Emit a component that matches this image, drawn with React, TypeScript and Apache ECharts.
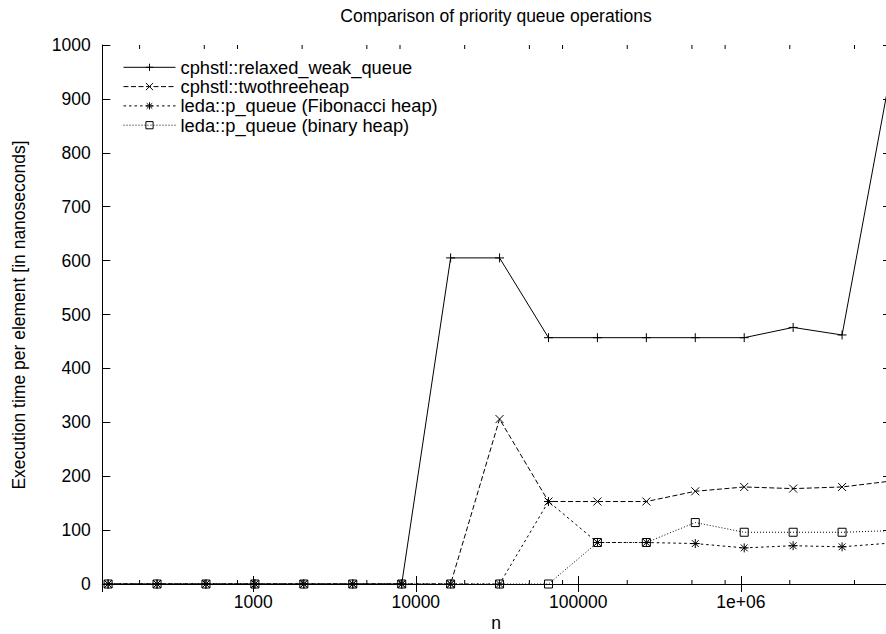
import React, { useEffect, useRef } from "react";
import * as echarts from "echarts";

const X_VALUES = [128, 256, 512, 1024, 2048, 4096, 8192, 16384, 32768, 65536, 131072, 262144, 524288, 1048576, 2097152, 4194304, 8388608];
const RELAXED_WEAK = [0, 0, 0, 0, 0, 0, 0, 605, 605, 457, 457, 457, 457, 457, 476, 462, 952];
const TWOTHREE = [0, 0, 0, 0, 0, 0, 0, 0, 306, 153, 153, 153, 172, 180, 177, 180, 191];
const FIBONACCI = [0, 0, 0, 0, 0, 0, 0, 0, 0, 153, 77, 77, 75, 67, 71, 69, 76];
const BINARY = [0, 0, 0, 0, 0, 0, 0, 0, 0, 0, 77, 77, 114, 96, 96, 96, 99];
const SERIES_NAMES = [
  "cphstl::relaxed_weak_queue",
  "cphstl::twothreeheap",
  "leda::p_queue (Fibonacci heap)",
  "leda::p_queue (binary heap)",
];
const MINOR_TICKS = [200, 500, 800, 2000, 5000, 8000, 20000, 50000, 80000, 200000, 500000, 800000, 2000000, 5000000, 8000000];
const TITLE = "Comparison of priority queue operations";
const X_NAME = "n";
const Y_NAME = "Execution time per element [in nanoseconds]";

const FONT = "'Liberation Sans', Arial, Helvetica, sans-serif";
const FS = 17.5;

const SYM_PLUS = "path://M0,5L10,5M5,0L5,10";
const SYM_CROSS = "path://M0,0L10,10M0,10L10,0";
const SYM_STAR = "path://M0,5L10,5M5,0L5,10M1.2,1.2L8.8,8.8M1.2,8.8L8.8,1.2";
const SYM_SQUARE = "path://M0,0L10,0L10,10L0,10Z";

function xLabel(v: number): string {
  const l = Math.log10(v);
  if (Math.abs(l - Math.round(l)) > 1e-6) return "";
  const e = Math.round(l);
  if (e >= 6) return "1e+" + (e < 10 ? "0" + e : String(e));
  return String(Math.round(v));
}

export default function App() {
  const ref = useRef<HTMLDivElement>(null);
  useEffect(() => {
    if (!ref.current) return;
    const chart = echarts.init(ref.current, undefined, { renderer: "svg" });
    const mk = (
      name: string,
      vals: number[],
      symbol: string,
      size: number,
      dash: any
    ) => ({
      name,
      type: "line",
      data: X_VALUES.map((x, i) => [x, vals[i]]),
      symbol,
      symbolSize: size,
      showAllSymbol: true,
      clip: true,
      lineStyle: { color: "#000", width: 1, type: dash },
      itemStyle: { color: "rgba(0,0,0,0)", borderColor: "#000", borderWidth: 1 },
      emphasis: { disabled: true },
      z: 3,
    });
    const axisLine = { show: true, lineStyle: { color: "#000", width: 1 } };
    const tick = { show: true, inside: true, length: 8, lineStyle: { color: "#000", width: 1 } };
    const option: any = {
      animation: false,
      backgroundColor: "#fff",
      grid: { left: 102.3, top: 45, right: 2.7, bottom: 50, containLabel: false },
      graphic: [
        {
          type: "text",
          x: 496,
          y: 15.5,
          style: { text: TITLE, fontSize: FS, fontFamily: FONT, fill: "#000", align: "center", verticalAlign: "middle" },
        },
        {
          type: "text",
          x: 18.5,
          y: 315,
          rotation: Math.PI / 2,
          style: { text: Y_NAME, fontSize: FS, fontFamily: FONT, fill: "#000", align: "center", verticalAlign: "middle" },
        },
        {
          type: "text",
          x: 496,
          y: 623,
          style: { text: X_NAME, fontSize: FS, fontFamily: FONT, fill: "#000", align: "center", verticalAlign: "middle" },
        },
      ],
      legend: {
        show: true,
        orient: "vertical",
        left: 123,
        top: 58.3,
        padding: 0,
        itemWidth: 52,
        itemHeight: 9,
        itemGap: 1.3,
        selectedMode: false,
        data: SERIES_NAMES,
        lineStyle: { width: 1, color: "#000" },
        itemStyle: { borderWidth: 1, borderColor: "#000" },
        textStyle: { fontSize: 18.3, fontFamily: FONT, color: "#000", lineHeight: 18 },
      },
      xAxis: [
        {
          type: "log",
          logBase: 10,
          min: 117.9,
          max: 8388608,
          position: "bottom",
          axisLine,
          axisTick: tick,
          splitLine: { show: false },
          minorTick: { show: false },
          axisLabel: { show: true, formatter: xLabel, fontSize: FS, fontFamily: FONT, color: "#000", margin: 9 },
        },
        {
          type: "log",
          logBase: 10,
          min: 117.9,
          max: 8388608,
          position: "top",
          axisLine,
          axisTick: tick,
          splitLine: { show: false },
          axisLabel: { show: false },
        },
      ],
      yAxis: [
        {
          type: "value",
          min: 0,
          max: 1000,
          interval: 100,
          position: "left",
          axisLine,
          axisTick: tick,
          splitLine: { show: false },
          axisLabel: {
            fontSize: FS,
            fontFamily: FONT,
            color: "#000",
            margin: 11.5,
            formatter: (v: number) => String(v),
          },
        },
        {
          type: "value",
          min: 0,
          max: 1000,
          interval: 100,
          position: "right",
          axisLine,
          axisTick: tick,
          splitLine: { show: false },
          axisLabel: { show: false },
        },
      ],
      series: [
        {
          type: "custom",
          name: "minor",
          xAxisIndex: 0,
          yAxisIndex: 0,
          silent: true,
          clip: false,
          data: MINOR_TICKS.map((v) => [v, 0]),
          renderItem: (_p: any, api: any) => {
            const x = api.value(0);
            const b = api.coord([x, 0]);
            const t = api.coord([x, 1000]);
            const st = { stroke: "#000", lineWidth: 1 };
            return {
              type: "group",
              children: [
                { type: "line", shape: { x1: b[0], y1: b[1], x2: b[0], y2: b[1] - 4 }, style: st },
                { type: "line", shape: { x1: t[0], y1: t[1], x2: t[0], y2: t[1] + 4 }, style: st },
              ],
            };
          },
        },
        mk(SERIES_NAMES[0], RELAXED_WEAK, SYM_PLUS, 9, "solid"),
        mk(SERIES_NAMES[1], TWOTHREE, SYM_CROSS, 8, [5, 2.5]),
        mk(SERIES_NAMES[2], FIBONACCI, SYM_STAR, 9, [2.5, 3]),
        mk(SERIES_NAMES[3], BINARY, SYM_SQUARE, 8, [1, 2]),
      ],
    };
    chart.setOption(option);
    return () => chart.dispose();
  }, []);
  return (
    <div style={{ position: "fixed", left: 0, top: 0, width: 886, height: 634, overflow: "hidden", background: "#fff" }}>
      <div ref={ref} style={{ width: 894, height: 634 }} />
    </div>
  );
}
